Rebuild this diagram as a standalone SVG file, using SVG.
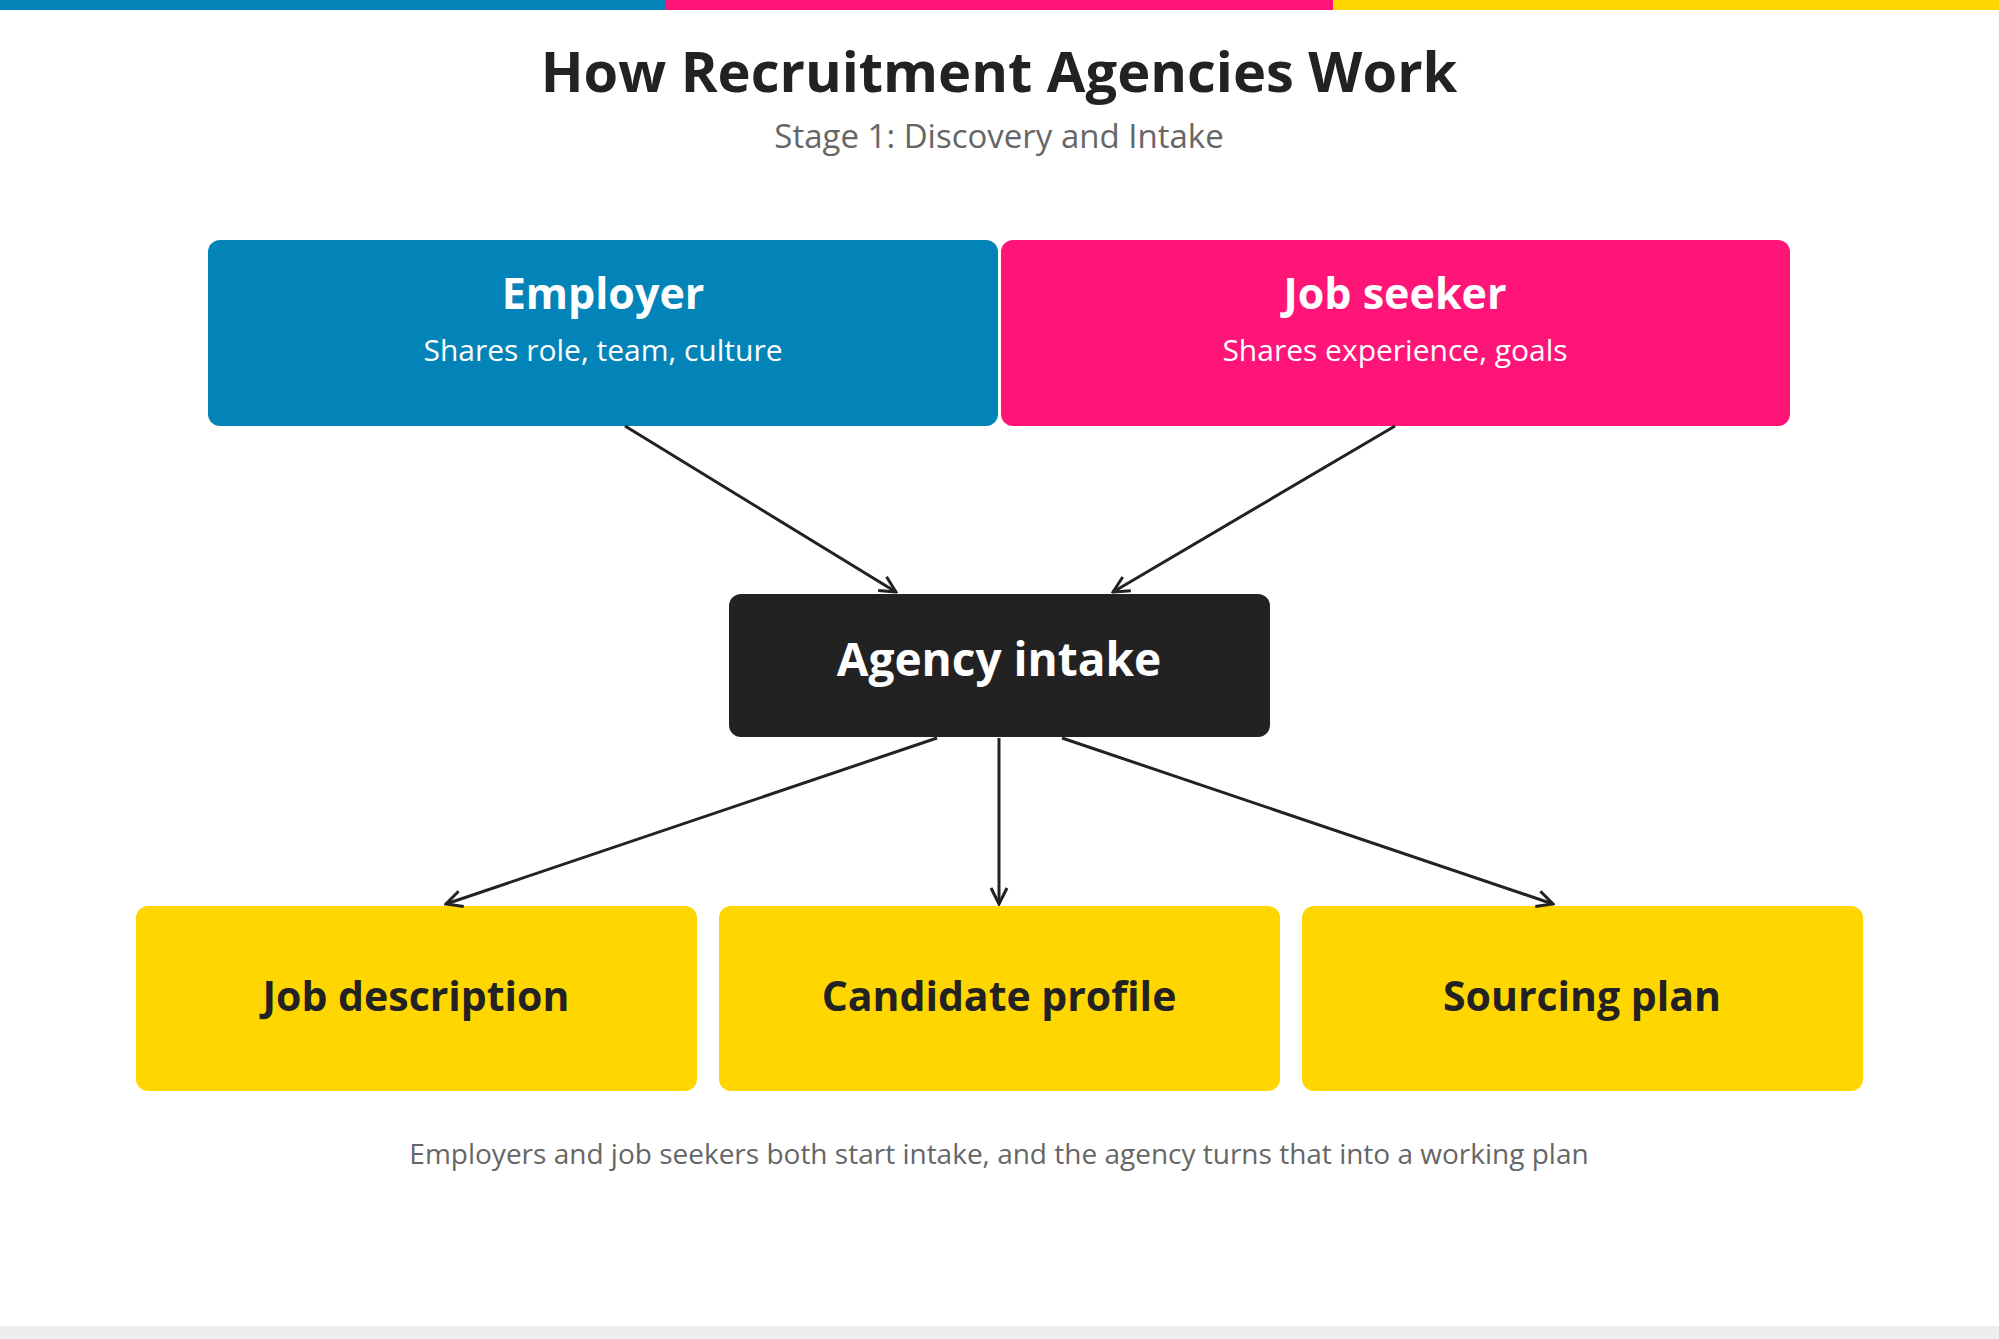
<svg xmlns="http://www.w3.org/2000/svg" width="1999" height="1339" viewBox="0 0 1999 1339">
<style>
text{font-family:"Open Sans","Noto Sans",sans-serif;text-anchor:middle}
.h{font-weight:700;fill:#fff}
.s{fill:#fff;font-size:30px}
.y{font-weight:700;fill:#222;font-size:41px}
.c{stroke:#222;stroke-width:3;fill:none;marker-end:url(#a)}
</style>
<defs><marker id="a" viewBox="0 0 20 20" refX="18" refY="10" markerWidth="20" markerHeight="20" markerUnits="userSpaceOnUse" orient="auto"><path d="M2,2 L18,10 L2,18" fill="none" stroke="#222" stroke-width="3"/></marker></defs>
<rect width="1999" height="1339" fill="#fff"/>
<rect x="0" y="0" width="666" height="10" fill="#0284b8"/>
<rect x="666" y="0" width="667" height="10" fill="#ff1478"/>
<rect x="1333" y="0" width="666" height="10" fill="#ffd600"/>
<rect x="0" y="1326" width="1999" height="13" fill="#eeeeee"/>
<text x="999" y="92" font-size="56" font-weight="700" fill="#222">How Recruitment Agencies Work</text>
<text x="999" y="148" font-size="33" fill="#666">Stage 1: Discovery and Intake</text>
<g id="employer"><rect x="208" y="240" width="790" height="186" rx="12" fill="#0284b8"/><text class="h" x="603" y="309" font-size="43">Employer</text><text class="s" x="603" y="361">Shares role, team, culture</text></g>
<g id="seeker"><rect x="1001" y="240" width="789" height="186" rx="12" fill="#ff1478"/><text class="h" x="1395" y="309" font-size="43">Job seeker</text><text class="s" x="1395" y="361">Shares experience, goals</text></g>
<g id="agency"><rect x="729" y="594" width="541" height="143" rx="12" fill="#222"/><text class="h" x="999" y="676" font-size="46">Agency intake</text></g>
<g id="jd"><rect x="136" y="906" width="561" height="185" rx="12" fill="#ffd600"/><text class="y" x="416" y="1011">Job description</text></g>
<g id="cp"><rect x="719" y="906" width="561" height="185" rx="12" fill="#ffd600"/><text class="y" x="999" y="1011">Candidate profile</text></g>
<g id="sp"><rect x="1302" y="906" width="561" height="185" rx="12" fill="#ffd600"/><text class="y" x="1582" y="1011">Sourcing plan</text></g>
<g id="connectors">
<path class="c" d="M625,426 L896,592"/>
<path class="c" d="M1395,426 L1113,592"/>
<path class="c" d="M937,738 L446,904"/>
<path class="c" d="M999,738 L999,904"/>
<path class="c" d="M1062,738 L1553,904"/>
</g>
<text x="999" y="1164" font-size="28" fill="#666">Employers and job seekers both start intake, and the agency turns that into a working plan</text>
</svg>
